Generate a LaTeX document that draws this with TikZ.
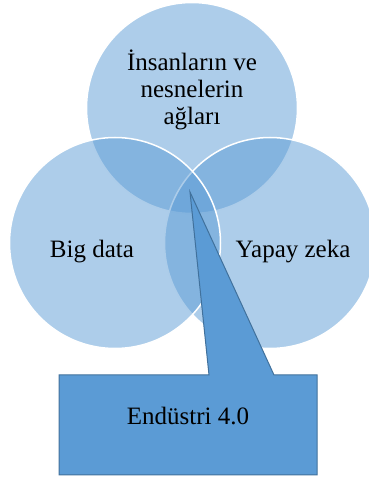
\documentclass[tikz,border=0pt]{standalone}
\usepackage{fontspec}
\setmainfont{Liberation Serif}
\usepackage{tikz}
\usetikzlibrary{backgrounds,calc}
\definecolor{kreisblau}{RGB}{91,155,213}
\definecolor{randblau}{RGB}{65,113,156}
\tikzset{
  kreis/.style={circle, minimum size=211pt, inner sep=0pt, fill=kreisblau, fill opacity=.5, draw=white, line width=1.5pt},
  etikett/.style={font=\fontsize{25}{27}\selectfont, align=center, text=black}
}

\begin{document}
\begin{tikzpicture}[x=1pt,y=1pt]
\useasboundingbox (0,0) rectangle (368,480);
% drei Kreise
\node[kreis] (netz) at (192,372) {};
\node[kreis] (zeka) at (270,237) {};
\node[kreis] (daten) at (115,237) {};
% Legende mit Spitze
\coordinate (spitze) at (190,288);
\draw[fill=kreisblau, draw=randblau, line width=1pt]
  (59,105) -- (209,105) -- (spitze) -- (274,105) -- (317,105)
  -- (317,5) -- (59,5) -- cycle;
\node[etikett] (tnetz) at (192,390) {İnsanların ve\\nesnelerin\\ağları};
\node[etikett] (tdaten) at (92,228) {Big data};
\node[etikett] (tzeka) at (293,228) {Yapay zeka};
\node[etikett] (tindustrie) at (188,64) {Endüstri 4.0};
\end{tikzpicture}
\end{document}
